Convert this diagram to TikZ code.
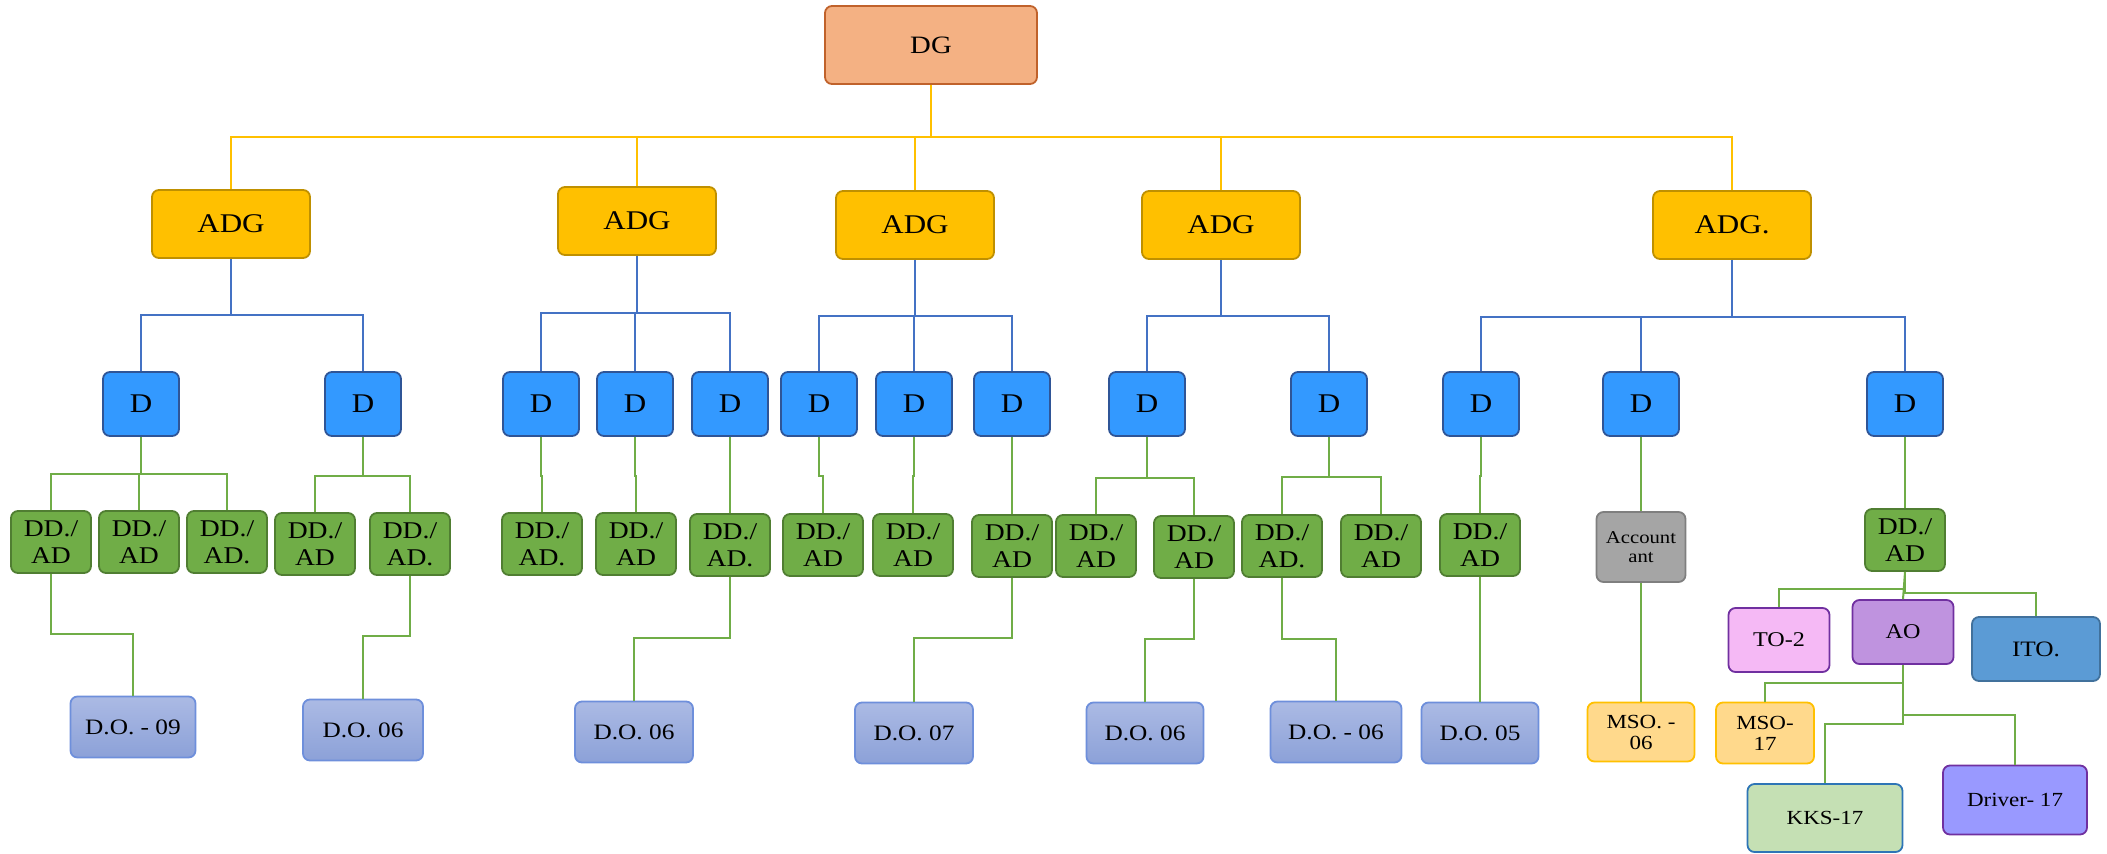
\documentclass[tikz,border=0pt]{standalone}
\usepackage{fontspec}
\setmainfont{Liberation Serif}[FakeStretch=1.15]
\usepackage{tikz}
\usetikzlibrary{positioning,calc}
\definecolor{dgfill}{HTML}{F4B183}
\definecolor{dgline}{HTML}{C0622B}
\definecolor{adgfill}{HTML}{FFC000}
\definecolor{adgline}{HTML}{BF9000}
\definecolor{dfill}{HTML}{3399FF}
\definecolor{dline}{HTML}{2F5597}
\definecolor{ddfill}{HTML}{70AD47}
\definecolor{ddline}{HTML}{507E32}
\definecolor{dotop}{HTML}{ABBAE4}
\definecolor{dobot}{HTML}{8CA1D8}
\definecolor{doline}{HTML}{6E8FDB}
\definecolor{accfill}{HTML}{A5A5A5}
\definecolor{accline}{HTML}{7F7F7F}
\definecolor{msofill}{HTML}{FFD98C}
\definecolor{msoline}{HTML}{FFC000}
\definecolor{tofill}{HTML}{F5B9F5}
\definecolor{purp}{HTML}{7030A0}
\definecolor{aofill}{HTML}{BF93DF}
\definecolor{itofill}{HTML}{5B9BD5}
\definecolor{itoline}{HTML}{41719C}
\definecolor{kksfill}{HTML}{C5E0B4}
\definecolor{kksline}{HTML}{2E75B6}
\definecolor{drvfill}{HTML}{9999FF}
\definecolor{ylw}{HTML}{FFC000}
\definecolor{blu}{HTML}{4472C4}
\definecolor{grn}{HTML}{70AD47}

\begin{document}
\begin{tikzpicture}[x=1pt,y=-1pt,
  box/.style={draw,rounded corners=7pt,line width=1.8pt,align=center,inner sep=0pt},
  dgbox/.style={box,fill=dgfill,draw=dgline,minimum width=212pt,minimum height=78pt,font=\fontsize{25}{28}\selectfont},
  adgbox/.style={box,fill=adgfill,draw=adgline,minimum width=158pt,minimum height=68pt,font=\fontsize{27}{30}\selectfont},
  dbox/.style={box,fill=dfill,draw=dline,minimum width=76pt,minimum height=64pt,font=\fontsize{27}{30}\selectfont},
  ddbox/.style={box,fill=ddfill,draw=ddline,minimum width=80pt,minimum height=62pt,font=\fontsize{24}{27}\selectfont},
  dobox/.style={box,top color=dotop,bottom color=dobot,draw=doline,minimum height=61pt,font=\fontsize{22}{24}\selectfont},
  smallbox/.style={box,font=\fontsize{20}{21}\selectfont},
  yl/.style={ylw,line width=2pt},
  bl/.style={blu,line width=2pt},
  gl/.style={grn,line width=2pt}]
  \useasboundingbox (0,0) rectangle (2107,854);
  % top
  \node[dgbox] (dg) at (931,45) {DG};
  \foreach \n/\x/\y/\t in {1/231/224/ADG, 2/637/221/ADG, 3/915/225/ADG, 4/1221/225/ADG, 5/1732/225/ADG.} {
    \node[adgbox] (adg\n) at (\x,\y) {\t};
    \draw[yl] (dg.south) |- (adg\n.north |- 0,137) -- (adg\n.north);
  }
  % directors: name, x, parent, bus
  \foreach \n/\x/\p/\b in {1/141/1/315, 2/363/1/315, 3/541/2/313, 4/635/2/313, 5/730/2/313,
      6/819/3/316, 7/914/3/316, 8/1012/3/316, 9/1147/4/316, 10/1329/4/316,
      11/1481/5/317, 12/1641/5/317, 13/1905/5/317} {
    \node[dbox] (d\n) at (\x,404) {D};
    \draw[bl] (adg\p.south) |- (d\n.north |- 0,\b) -- (d\n.north);
  }
  % DD./AD row: name, x, y, parent, bus, second line
  \foreach \n/\x/\y/\p/\b/\t in {1/51/542/1/474/AD, 2/139/542/1/474/AD, 3/227/542/1/474/AD.,
      4/315/544/2/476/AD, 5/410/544/2/476/AD., 6/542/544/3/476/AD., 7/636/544/4/476/AD,
      8/730/545/5/476/AD., 9/823/545/6/476/AD, 10/913/545/7/476/AD, 11/1012/546/8/476/AD,
      12/1096/546/9/478/AD, 13/1194/547/9/478/AD, 14/1282/546/10/477/AD., 15/1381/546/10/477/AD,
      16/1480/545/11/476/AD, 17/1905/540/13/476/AD} {
    \node[ddbox] (dd\n) at (\x,\y) {DD./\\\t};
    \draw[gl] (d\p.south) |- (dd\n.north |- 0,\b) -- (dd\n.north);
  }
  % district offices: name, x, y, width, source, jog, label
  \foreach \n/\x/\y/\w/\s/\j/\t in {1/133/727/125/1/634/D.O. - 09, 2/363/730/120/5/636/D.O. 06,
      3/634/732/118/8/638/D.O. 06, 4/914/733/118/11/638/D.O. 07, 5/1145/733/117/13/639/D.O. 06,
      6/1336/732/131/14/639/D.O. - 06, 7/1480/733/117/16/639/D.O. 05} {
    \node[dobox,minimum width=\w pt] (do\n) at (\x,\y) {\t};
    \draw[gl] (dd\s.south) |- (do\n.north |- 0,\j) -- (do\n.north);
  }
  % accounts
  \node[box,fill=accfill,draw=accline,minimum width=89pt,minimum height=70pt,font=\fontsize{18}{19}\selectfont] (acc) at (1641,547) {Account\\ant};
  \node[smallbox,fill=msofill,draw=msoline,minimum width=107pt,minimum height=59pt] (mso1) at (1641,732) {MSO. -\\06};
  \draw[gl] (d12.south) -- (acc.north);
  \draw[gl] (acc.south) -- (mso1.north);
  % admin branch
  \node[smallbox,fill=tofill,draw=purp,minimum width=101pt,minimum height=64pt,font=\fontsize{21}{23}\selectfont] (to2) at (1779,640) {TO-2};
  \node[smallbox,fill=aofill,draw=purp,minimum width=101pt,minimum height=64pt,font=\fontsize{21}{23}\selectfont] (ao) at (1903,632) {AO};
  \node[smallbox,fill=itofill,draw=itoline,minimum width=128pt,minimum height=64pt,font=\fontsize{22}{24}\selectfont] (ito) at (2036,649) {ITO.};
  \draw[gl] (dd17.south) |- (to2.north |- 0,589) -- (to2.north);
  \draw[gl] (dd17.south) |- (ito.north |- 0,593) -- (ito.north);
  \draw[gl] (dd17.south) -- (ao.north);
  \node[smallbox,fill=msofill,draw=msoline,minimum width=98pt,minimum height=61pt] (mso2) at (1765,733) {MSO-\\17};
  \node[smallbox,fill=kksfill,draw=kksline,minimum width=155pt,minimum height=68pt] (kks) at (1825,818) {KKS-17};
  \node[smallbox,fill=drvfill,draw=purp,minimum width=144pt,minimum height=69pt] (drv) at (2015,800) {Driver- 17};
  \draw[gl] (ao.south) |- (mso2.north |- 0,683) -- (mso2.north);
  \draw[gl] (ao.south) |- (drv.north |- 0,715) -- (drv.north);
  \draw[gl] (ao.south) |- (kks.north |- 0,724) -- (kks.north);
\end{tikzpicture}
\end{document}
